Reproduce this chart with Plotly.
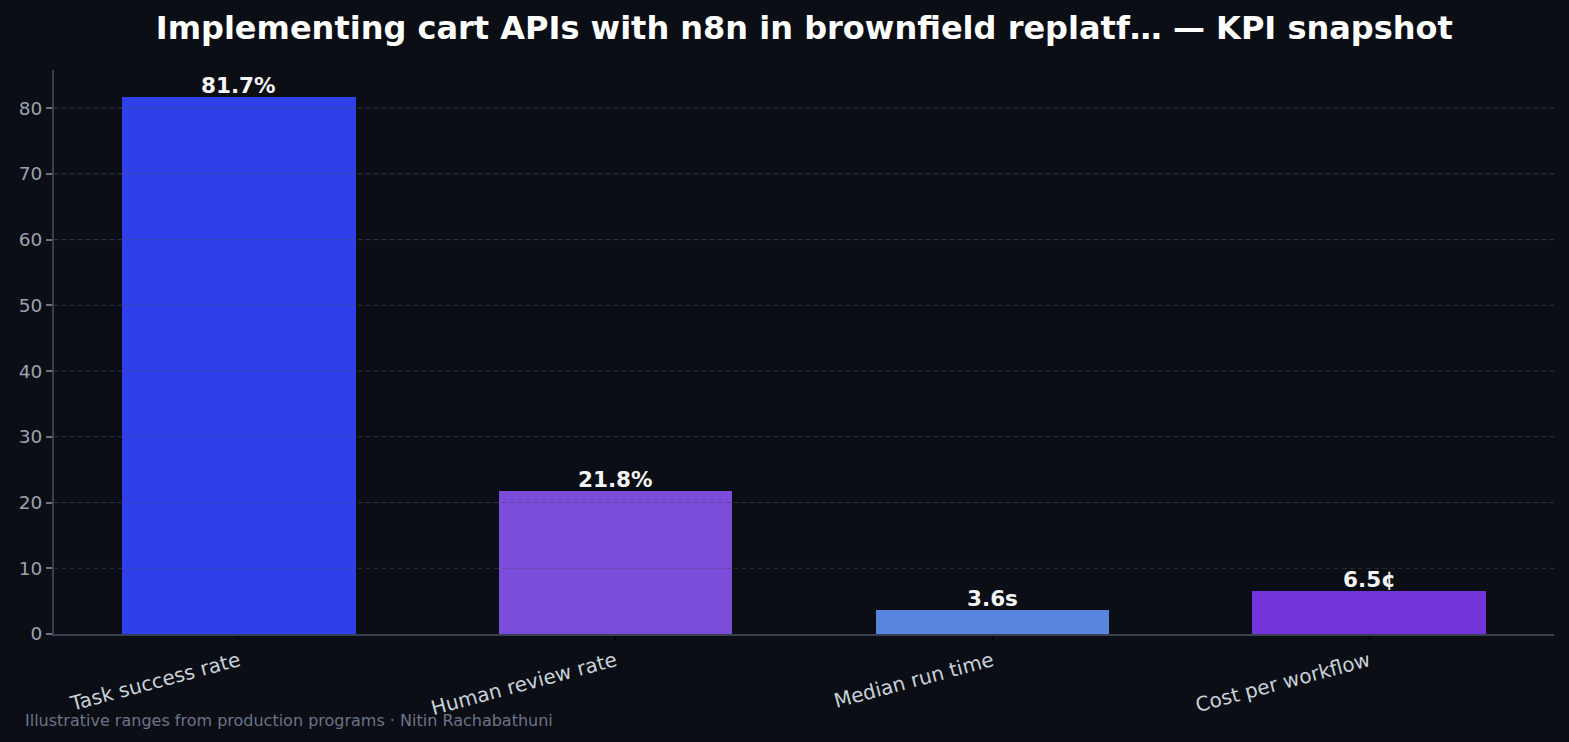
import plotly.graph_objects as go

categories = ["Task success rate", "Human review rate", "Median run time", "Cost per workflow"]
values = [81.7, 21.8, 3.6, 6.5]
value_labels = ["81.7%", "21.8%", "3.6s", "6.5¢"]
bar_colors = ["#2E40EA", "#7C4CDA", "#5886DE", "#7234D9"]
y_ticks = [0, 10, 20, 30, 40, 50, 60, 70, 80]

BG = "#0B0E14"
FONT = "DejaVu Sans"

x_idx = list(range(len(categories)))

fig = go.Figure()
fig.add_trace(go.Bar(
    x=x_idx, y=values, width=0.62,
    marker=dict(color=bar_colors, line=dict(width=0)),
    hoverinfo="skip",
))

ymax = max(values) * 1.05
pad = 0.05 * (len(categories) - 1 + 0.62)

# dashed gridlines drawn over the bars
for t in y_ticks[1:]:
    fig.add_shape(type="line", xref="paper", x0=0, x1=1, yref="y", y0=t, y1=t,
                  line=dict(color="rgba(70,80,100,0.55)", width=1.2, dash="5px,3px"),
                  layer="above")

# value labels
for i, (v, lab) in enumerate(zip(values, value_labels)):
    fig.add_annotation(x=i, y=v, xref="x", yref="y", text="<b>" + lab + "</b>",
                       showarrow=False, yanchor="bottom", yshift=-3,
                       font=dict(family=FONT, size=21.5, color="#F3F4F6"))

fig.add_annotation(xref="paper", yref="paper", x=-0.021, y=-0.1525,
                   xanchor="left", yanchor="middle", showarrow=False,
                   text="Illustrative ranges from production programs · Nitin Rachabathuni",
                   font=dict(family=FONT, size=16, color="#6B7488"))

fig.update_layout(
    width=1569, height=742,
    paper_bgcolor=BG, plot_bgcolor=BG,
    margin=dict(l=54, r=15, t=70, b=108),
    showlegend=False,
    bargap=0,
    title=dict(text="<b>Implementing cart APIs with n8n in brownfield replatf… — KPI snapshot</b>",
               x=0.5126, xanchor="center", y=1 - 28 / 742, yanchor="middle",
               yref="container",
               font=dict(family=FONT, size=32, color="#FFFFFF")),
    xaxis=dict(
        range=[-0.31 - pad, len(categories) - 1 + 0.31 + pad],
        tickmode="array", tickvals=x_idx, ticktext=categories,
        tickangle=-15, ticks="outside", ticklen=6, tickwidth=1.3, tickcolor="#000000",
        tickfont=dict(family=FONT, size=20, color="#C9D1D9"),
        showline=True, linecolor="#374151", linewidth=1.8,
        showgrid=False, zeroline=False,
    ),
    yaxis=dict(
        range=[0, ymax],
        tickmode="array", tickvals=y_ticks,
        ticks="outside", ticklen=6, tickwidth=1.5, tickcolor="#6B7280",
        tickfont=dict(family=FONT, size=18.5, color="#9CA3AF"),
        showline=True, linecolor="#374151", linewidth=1.8,
        showgrid=False, zeroline=False,
    ),
)

fig.write_html("out.html")
